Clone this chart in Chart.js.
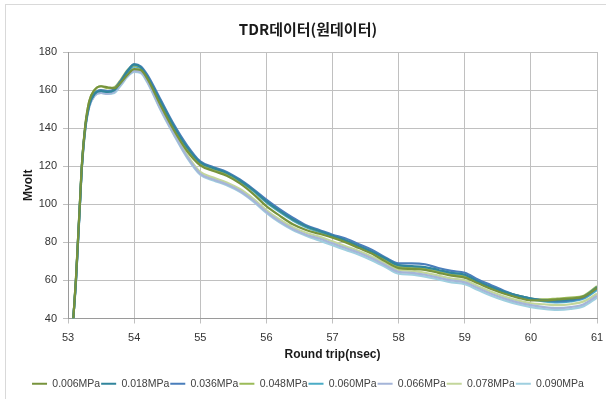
<!DOCTYPE html>
<html>
<head>
<meta charset="utf-8">
<script src="https://cdn.jsdelivr.net/npm/chart.js@4"></script>
<style>
  html, body { margin: 0; padding: 0; background: #fff; overflow: hidden; }
  #frame { position: absolute; left: 5px; top: 4px; width: 700px; height: 500px; border: 1px solid #d9d9d9; }
  #wrap { position: absolute; left: 0; top: 0; width: 606px; height: 399px; }
</style>
</head>
<body>
<div id="frame"></div>
<div id="wrap"><canvas id="tdr"></canvas></div>
<script>
// round trip time (nsec)
const roundTrip = [53.08, 53.12, 53.15, 53.18, 53.21, 53.26, 53.32, 53.4, 53.5, 53.6, 53.7, 53.8, 53.9, 54.0, 54.1, 54.2,
  54.4, 54.6, 54.8, 55.0, 55.2, 55.4, 55.6, 55.8, 56.0, 56.2, 56.4, 56.6, 56.8, 57.0, 57.2, 57.4, 57.6, 57.8,
  58.0, 58.2, 58.4, 58.6, 58.8, 59.0, 59.2, 59.4, 59.6, 59.8, 60.0, 60.2, 60.4, 60.6, 60.8, 61.0];

// Mvolt per pressure
const mpa006 = [40, 61, 81, 101, 121, 141, 154, 160, 162, 161.5, 161, 164, 168, 171, 170.5, 166,
  152, 139, 128, 120.5, 117.5, 115, 111, 105.5, 99, 94, 89.5, 86.5, 84.5, 82.5, 80, 77, 74, 70,
  66.5, 66, 65.5, 64, 62.5, 61.5, 58.5, 55.5, 53, 51, 49.5, 49.5, 50, 50.5, 51.5, 56];
const mpa018 = [40, 60, 80, 100, 120, 140, 152, 158, 159.5, 159, 160, 164.5, 170, 173.5, 172, 167,
  154, 141, 130, 122, 119, 116.5, 112.5, 107.5, 101.5, 96.5, 92, 88.5, 86, 83.5, 81, 78, 75, 71.5,
  68, 67.5, 67, 65.5, 64, 63, 59.5, 56.5, 54, 52, 50.5, 49.5, 49.5, 50, 51.5, 56.5];
const mpa036 = [40, 60, 80, 100, 120, 140, 152, 158, 160, 159.5, 160.5, 165, 170, 173.5, 172.5, 168,
  155, 142, 131, 122.5, 119.5, 117, 113, 108, 102.5, 97.5, 93, 89, 86.5, 84, 82, 79, 76, 72,
  69, 69, 68.5, 66.5, 65, 64, 60.5, 57.5, 54.5, 52, 50.5, 49.5, 49, 49.5, 51, 56];
const mpa048 = [40, 61, 81, 101, 121, 141, 154, 160, 162, 161, 161.5, 165.5, 170.5, 173, 172, 167,
  153, 140, 129, 121.5, 118.5, 116, 112.5, 107.5, 101.5, 96.5, 92, 88.5, 86, 83.5, 81, 78, 75, 71,
  67.5, 67, 66, 64.5, 63, 62, 59.5, 56.5, 54, 52, 50.5, 50, 50.5, 51, 52, 57];
const mpa060 = [40, 60, 80, 100, 120, 140, 152, 158, 159.5, 159, 160, 164, 169, 172.5, 171.5, 167,
  154, 141, 130, 121.5, 118.5, 116, 112, 107, 101, 96, 91.5, 88, 85.5, 83, 80.5, 77.5, 74.5, 71,
  67.5, 67, 66, 64.5, 63, 62, 59, 56, 53.5, 51.5, 50, 49, 48.5, 49, 50.5, 55];
const mpa066 = [40, 59, 79, 99, 119, 139, 151, 157, 158.5, 158, 159, 163, 167.5, 170, 169.5, 164.5,
  150, 137, 125, 116, 113, 110.5, 107, 102, 96, 91, 87, 84, 82, 79.5, 77, 74.5, 71.5, 68,
  64.5, 64, 63, 61.5, 60, 59, 56, 53, 50.5, 48.5, 47, 46, 45.5, 46, 47.5, 52];
const mpa078 = [40, 59, 79, 99, 119, 139, 152, 158, 160, 159.5, 160, 163.5, 168, 170.5, 170, 165,
  151, 138, 126, 117, 114, 111.5, 108, 103, 97, 92, 88, 85, 83, 80.5, 78, 75.5, 72.5, 69,
  65.5, 65, 64, 62.5, 61, 60, 57, 54, 51.5, 49.5, 48, 47.5, 47, 47.5, 49, 53];
const mpa090 = [40, 59, 79, 99, 119, 139, 151, 157, 158.5, 158, 158.5, 162.5, 167, 169.5, 169, 164,
  149.5, 136.5, 124.5, 115.5, 112.5, 110, 106.5, 101.5, 95.5, 90.5, 86.5, 83.5, 81, 78.5, 76, 73.5, 70.5, 67,
  63.5, 63, 62, 60.5, 59, 58, 55, 52, 49.5, 47.5, 46, 45, 44.5, 45, 46.5, 51];

const seriesNames = ['0.006MPa', '0.018MPa', '0.036MPa', '0.048MPa', '0.060MPa', '0.066MPa', '0.078MPa', '0.090MPa'];
const seriesData = [mpa006, mpa018, mpa036, mpa048, mpa060, mpa066, mpa078, mpa090];
const seriesColors = ['#77933c', '#31859c', '#4a7ebb', '#9bbb59', '#4bacc6', '#a5b5d8', '#c3d69b', '#9fcfdf'];

const xTicks = [53, 54, 55, 56, 57, 58, 59, 60, 61];
const yTicks = [40, 60, 80, 100, 120, 140, 160, 180];

const tickFont = { family: 'Liberation Sans', size: 11 };
const gridColor = '#c0c0c0';

new Chart(document.getElementById('tdr'), {
  type: 'line',
  data: {
    datasets: seriesNames.map((name, i) => ({
      label: name,
      data: roundTrip.map((x, k) => ({ x: x, y: seriesData[i][k] })),
      borderColor: seriesColors[i],
      backgroundColor: seriesColors[i],
      borderWidth: 2.2,
      pointRadius: 0,
      cubicInterpolationMode: 'monotone',
      fill: false,
    })),
  },
  options: {
    responsive: true, maintainAspectRatio: false, animation: false,
    layout: { padding: { left: 19, right: 9, top: 0, bottom: 0 } },
    plugins: {
      tooltip: { enabled: false },
      title: {
        display: true, text: 'TDR데이터(원데이터)', color: '#1a1a1a',
        font: { family: 'Noto Sans CJK KR', size: 15, weight: 'bold' },
        padding: { top: 20, bottom: 14 },
      },
      legend: {
        position: 'bottom',
        labels: {
          boxWidth: 15, boxHeight: 2, padding: 1, color: '#404040',
          font: { family: 'Liberation Sans', size: 10.5 },
          generateLabels: chart => Chart.defaults.plugins.legend.labels.generateLabels(chart)
            .map(l => Object.assign(l, { lineWidth: 0 })),
        },
      },
    },
    scales: {
      x: {
        type: 'linear', min: 53, max: 61,
        afterBuildTicks: s => { s.ticks = xTicks.map(v => ({ value: v })); },
        afterFit: s => { s.height = 59; s.paddingLeft = 0; s.paddingRight = 0; },
        grid: { color: gridColor, tickLength: 5 },
        border: { color: '#9a9a9a' },
        ticks: { font: tickFont, color: '#333', padding: 8, maxRotation: 0 },
        title: { display: true, text: 'Round trip(nsec)', color: '#1a1a1a',
          font: { family: 'Liberation Sans', size: 12, weight: 'bold' }, padding: { top: 4, bottom: 16 } },
      },
      y: {
        type: 'linear', min: 40, max: 180,
        afterBuildTicks: s => { s.ticks = yTicks.map(v => ({ value: v })); },
        afterFit: s => { s.width = 49; },
        grid: { color: gridColor, tickLength: 5 },
        border: { color: '#9a9a9a' },
        ticks: { font: tickFont, color: '#333', padding: 6 },
        title: { display: true, text: 'Mvolt', color: '#1a1a1a',
          font: { family: 'Liberation Sans', size: 12, weight: 'bold' }, padding: { top: 2, bottom: 0 } },
      },
    },
  },
});
</script>
</body>
</html>
